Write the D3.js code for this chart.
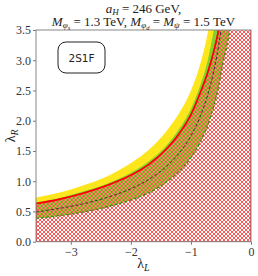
<!DOCTYPE html>
<html>
<head>
<meta charset="utf-8">
<script src="https://cdn.jsdelivr.net/npm/d3@7"></script>
<style>
  html, body { margin: 0; padding: 0; background: #fff; }
  svg { display: block; }
  .tick text { font-family: "Liberation Serif", "DejaVu Serif", serif; font-size: 12px; fill: #333; }
</style>
</head>
<body>
<svg id="chart" width="258" height="276"></svg>
<script>
// lambda_L sample points and the curves (lambda_R values)
const lamL       = [-3.58, -3.2, -2.8, -2.4, -2.0, -1.7, -1.4, -1.2, -1.0, -0.85, -0.72, -0.62, -0.54, -0.47, -0.40, -0.34, -0.30];
const yellowTop  = [0.73, 0.81, 0.93, 1.08, 1.30, 1.52, 1.84, 2.12, 2.50, 2.92, 3.45, 4.0, 4.6, 5.3, 6.0, 7.0, 8.0];
const greenUpper = [0.65, 0.72, 0.83, 0.96, 1.14, 1.33, 1.60, 1.86, 2.20, 2.57, 3.0, 3.5, 4.0, 4.6, 5.4, 6.3, 7.0];
const redLine    = [0.63, 0.70, 0.80, 0.93, 1.10, 1.28, 1.54, 1.78, 2.10, 2.45, 2.80, 3.15, 3.50, 3.95, 4.6, 5.4, 6.0];
const central    = [0.49, 0.55, 0.625, 0.73, 0.875, 1.03, 1.25, 1.46, 1.75, 2.06, 2.43, 2.82, 3.24, 3.72, 4.4, 5.1, 5.8];
const greenLower = [0.385, 0.43, 0.49, 0.575, 0.69, 0.81, 0.99, 1.16, 1.39, 1.64, 1.93, 2.24, 2.57, 2.95, 3.25, 3.6, 4.0];

const xTicks = [-3, -2, -1, 0];
const yTicks = [0, 0.5, 1, 1.5, 2, 2.5, 3, 3.5];
const xDomain = [-3.58, 0];
const yDomain = [0, 3.5];

const svg = d3.select('#chart');
const margin = { top: 30, right: 7, bottom: 34.3, left: 36 };
const W = 258, H = 276;

const x = d3.scaleLinear().domain(xDomain).range([margin.left, W - margin.right]);
const y = d3.scaleLinear().domain(yDomain).range([H - margin.bottom, margin.top]);

const defs = svg.append('defs');
defs.append('clipPath').attr('id', 'plotclip')
    .append('rect')
    .attr('x', x(xDomain[0])).attr('y', y(yDomain[1]))
    .attr('width', x(xDomain[1]) - x(xDomain[0]))
    .attr('height', y(yDomain[0]) - y(yDomain[1]));

// crosshatch ("xx") pattern, pixel aligned like a rasterised hatch
const pat = defs.append('pattern').attr('id', 'hatch')
    .attr('patternUnits', 'userSpaceOnUse')
    .attr('width', 4).attr('height', 4);
const hatchPix = [[0, 0], [3, 0], [1, 1], [2, 1], [1, 2], [2, 2], [0, 3], [3, 3]];
pat.selectAll('rect').data(hatchPix).enter().append('rect')
    .attr('x', d => d[0]).attr('y', d => d[1])
    .attr('width', 1).attr('height', 1)
    .attr('fill', '#ff5656')
    .attr('shape-rendering', 'crispEdges');

const rows = lamL.map((l, i) => ({
    l, yt: yellowTop[i], gu: greenUpper[i], r: redLine[i], c: central[i], gl: greenLower[i]
}));

const plot = svg.append('g').attr('clip-path', 'url(#plotclip)');

// yellow band
plot.append('path').datum(rows)
    .attr('fill', '#fde61c')
    .attr('d', d3.area().curve(d3.curveMonotoneX)
        .x(d => x(d.l)).y0(d => y(d.gl)).y1(d => y(d.yt)));

// green band
plot.append('path').datum(rows)
    .attr('fill', '#80d22c')
    .attr('d', d3.area().curve(d3.curveMonotoneX)
        .x(d => x(d.l)).y0(d => y(d.gl)).y1(d => y(d.gu)));

// hatched excluded region below the red curve
const redLineGen = d3.line().curve(d3.curveMonotoneX).x(d => x(d.l)).y(d => y(d.r));
const last = rows[rows.length - 1];
const hatchPath = redLineGen(rows) +
    `L${x(0)},${y(last.r)}L${x(0)},${y(0)}L${x(rows[0].l)},${y(0)}Z`;
plot.append('path')
    .attr('d', hatchPath)
    .attr('fill', 'url(#hatch)')
    .attr('stroke', '#ff2020')
    .attr('stroke-width', 1.3);

// lower green dashed line
plot.append('path').datum(rows)
    .attr('fill', 'none')
    .attr('stroke', '#3d8a1c')
    .attr('stroke-width', 1.2)
    .attr('stroke-dasharray', '3,2')
    .attr('d', d3.line().curve(d3.curveMonotoneX).x(d => x(d.l)).y(d => y(d.gl)));

// central dashed line
plot.append('path').datum(rows)
    .attr('fill', 'none')
    .attr('stroke', '#333')
    .attr('stroke-width', 1)
    .attr('stroke-dasharray', '3,2')
    .attr('d', d3.line().curve(d3.curveMonotoneX).x(d => x(d.l)).y(d => y(d.c)));

// red line on top
plot.append('path').datum(rows)
    .attr('fill', 'none')
    .attr('stroke', '#ff0000')
    .attr('stroke-width', 1.6)
    .attr('d', redLineGen);

// axes
const xAxis = svg.append('g').attr('transform', `translate(0,${y(0)})`)
    .call(d3.axisBottom(x).tickValues(xTicks).tickSize(3).tickPadding(3)
        .tickFormat(d => d === 0 ? '0' : '\u2212' + Math.abs(d)));
const yAxis = svg.append('g').attr('transform', `translate(${x(xDomain[0])},0)`)
    .call(d3.axisLeft(y).tickValues(yTicks).tickSize(3).tickPadding(2)
        .tickFormat(d3.format('.1f')));
[xAxis, yAxis].forEach(a => {
    a.select('.domain').remove();
    a.selectAll('.tick line').attr('stroke', '#777');
});

// frame
svg.append('rect')
    .attr('x', x(xDomain[0])).attr('y', y(yDomain[1]))
    .attr('width', x(xDomain[1]) - x(xDomain[0]))
    .attr('height', y(yDomain[0]) - y(yDomain[1]))
    .attr('fill', 'none').attr('stroke', '#888').attr('stroke-width', 1);

// axis labels
const serif = '"Liberation Serif", "DejaVu Serif", serif';
const xl = svg.append('text')
    .attr('x', (x(xDomain[0]) + x(xDomain[1])) / 2).attr('y', 268)
    .attr('text-anchor', 'middle').attr('font-family', serif).attr('font-size', 14).attr('fill', '#222');
xl.append('tspan').text('\u03bb');
xl.append('tspan').attr('font-size', 10).attr('font-style', 'italic').attr('dy', 3).text('L');

const yl = svg.append('text')
    .attr('transform', `translate(15,${(y(0) + y(3.5)) / 2}) rotate(-90)`)
    .attr('text-anchor', 'middle').attr('font-family', serif).attr('font-size', 14).attr('fill', '#222');
yl.append('tspan').text('\u03bb');
yl.append('tspan').attr('font-size', 10).attr('font-style', 'italic').attr('dy', 3).text('R');

// title
const cx = (x(xDomain[0]) + x(xDomain[1])) / 2;
const t1 = svg.append('text').attr('x', cx).attr('y', 12.5)
    .attr('text-anchor', 'middle').attr('font-family', serif).attr('font-size', 13).attr('fill', '#222');
t1.append('tspan').attr('font-style', 'italic').text('a');
t1.append('tspan').attr('font-style', 'italic').attr('font-size', 9).attr('dy', 2).text('H');
t1.append('tspan').attr('dy', -2).text(' = 246 GeV,');

const t2 = svg.append('text').attr('x', cx).attr('y', 25.5)
    .attr('text-anchor', 'middle').attr('font-family', serif).attr('font-size', 13).attr('fill', '#222');
t2.append('tspan').attr('font-style', 'italic').text('M');
t2.append('tspan').attr('font-style', 'italic').attr('font-size', 9).attr('dy', 2.5).text('\u03c6');
t2.append('tspan').attr('font-style', 'italic').attr('font-size', 6.5).attr('dy', 1.5).text('s');
t2.append('tspan').attr('dy', -4).text(' = 1.3 TeV, ');
t2.append('tspan').attr('font-style', 'italic').text('M');
t2.append('tspan').attr('font-style', 'italic').attr('font-size', 9).attr('dy', 2.5).text('\u03c6');
t2.append('tspan').attr('font-style', 'italic').attr('font-size', 6.5).attr('dy', 1.5).text('d');
t2.append('tspan').attr('dy', -4).text(' = ');
t2.append('tspan').attr('font-style', 'italic').text('M');
t2.append('tspan').attr('font-style', 'italic').attr('font-size', 9).attr('dy', 2.5).text('\u03c8');
t2.append('tspan').attr('dy', -2.5).text(' = 1.5 TeV');

// model box
svg.append('rect')
    .attr('x', 58).attr('y', 42).attr('width', 47).attr('height', 31)
    .attr('rx', 8).attr('fill', '#fff').attr('stroke', '#222').attr('stroke-width', 1);
svg.append('text')
    .attr('x', 81.5).attr('y', 61.5).attr('text-anchor', 'middle')
    .attr('font-family', '"DejaVu Sans", sans-serif').attr('font-size', 10.5).attr('fill', '#222')
    .text('2S1F');
</script>
</body>
</html>
